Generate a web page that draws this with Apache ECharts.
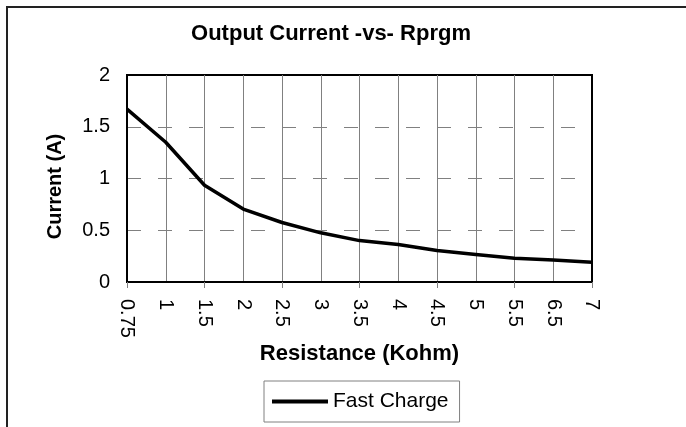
<!DOCTYPE html>
<html>
<head>
<meta charset="utf-8">
<script src="https://cdn.jsdelivr.net/npm/echarts@6/dist/echarts.min.js"></script>
<style>
html,body{margin:0;padding:0;background:#fff;}
#chart{width:686px;height:427px;}
</style>
</head>
<body>
<div id="chart"></div>
<script>
var titleText = 'Output Current -vs- Rprgm';
var xAxisName = 'Resistance (Kohm)';
var yAxisName = 'Current (A)';
var seriesName = 'Fast Charge';
var categories = ['0.75','1','1.5','2','2.5','3','3.5','4','4.5','5','5.5','6.5','7'];
var fastCharge = [1.67, 1.35, 0.935, 0.705, 0.575, 0.475, 0.40, 0.363, 0.305, 0.265, 0.23, 0.212, 0.19];
var yMin = 0, yMax = 2, yStep = 0.5;

var FONT = '"Liberation Sans", Arial, sans-serif';
var chart = echarts.init(document.getElementById('chart'), null, {renderer: 'canvas'});
chart.setOption({
  animation: false,
  backgroundColor: '#fff',
  textStyle: {fontFamily: FONT, color: '#000'},
  graphic: [{
    type: 'rect', silent: true, z: -1,
    shape: {x: 7, y: 7, width: 800, height: 600},
    style: {fill: 'none', stroke: '#222', lineWidth: 2}
  }],
  title: {
    text: titleText, left: 326, top: 18, textAlign: 'center',
    textStyle: {fontFamily: FONT, fontSize: 22, fontWeight: 'bold', color: '#000'}
  },
  legend: {
    left: 264, top: 381,
    padding: [10, 11, 10, 8],
    borderColor: '#808080', borderWidth: 1,
    itemWidth: 56, itemHeight: 4, itemGap: 10,
    textStyle: {fontFamily: FONT, fontSize: 21, color: '#000'},
    data: [{name: seriesName, icon: 'rect'}]
  },
  grid: {
    left: 127, right: 94, top: 75, bottom: 145,
    show: true, borderColor: '#000', borderWidth: 2, backgroundColor: 'transparent'
  },
  xAxis: {
    type: 'category', data: categories, boundaryGap: false,
    name: xAxisName, nameLocation: 'middle', nameGap: 61,
    nameTextStyle: {fontFamily: FONT, fontSize: 22, fontWeight: 'bold', color: '#000'},
    axisLine: {lineStyle: {color: '#000', width: 2}},
    axisTick: {show: true, interval: 1, length: 6, lineStyle: {color: '#808080', width: 1}},
    axisLabel: {interval: 0, rotate: -90, margin: 17, fontFamily: FONT, fontSize: 20, color: '#000'},
    splitLine: {show: true, interval: 0, showMinLine: false, showMaxLine: false, lineStyle: {color: '#808080', width: 1}}
  },
  yAxis: {
    type: 'value', min: yMin, max: yMax, interval: yStep,
    name: yAxisName, nameLocation: 'middle', nameGap: 62, nameRotate: 90,
    nameTextStyle: {fontFamily: FONT, fontSize: 20, fontWeight: 'bold', color: '#000', padding: [0, 16, 0, 0]},
    axisLine: {show: true, lineStyle: {color: '#000', width: 2}},
    axisTick: {show: false},
    axisLabel: {margin: 17, fontFamily: FONT, fontSize: 20, color: '#000'},
    splitLine: {show: true, showMinLine: false, showMaxLine: false, lineStyle: {color: '#808080', width: 1, type: [14, 17]}}
  },
  series: [{
    name: seriesName, type: 'line', data: fastCharge,
    showSymbol: false, symbol: 'none',
    lineStyle: {color: '#000', width: 3.5, join: 'round'},
    itemStyle: {color: '#000'}
  }]
});
</script>
</body>
</html>
